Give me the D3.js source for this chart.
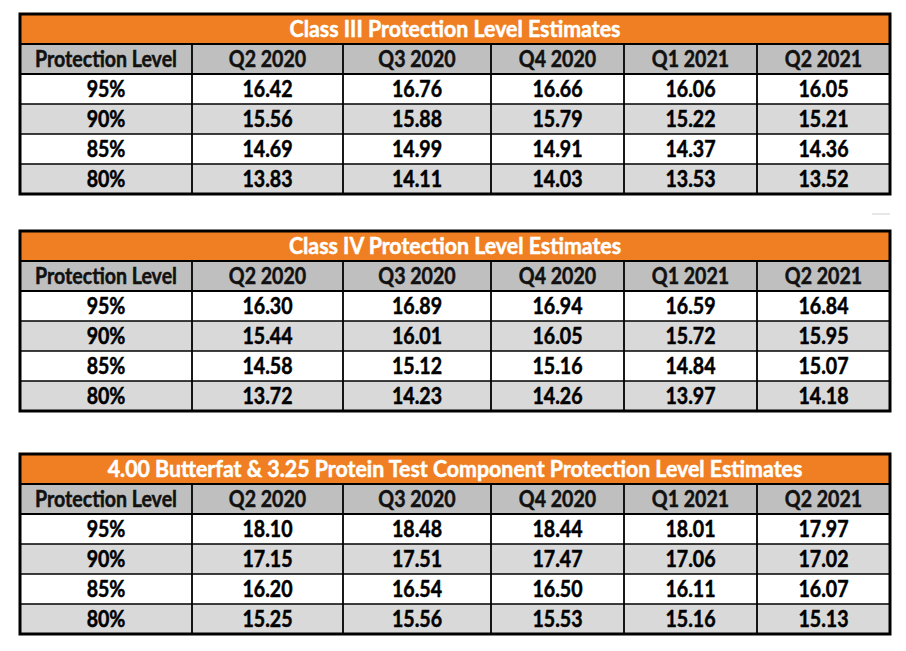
<!DOCTYPE html>
<html>
<head>
<meta charset="utf-8">
<script src="https://cdn.jsdelivr.net/npm/d3@7"></script>
<style>
  body { margin: 0; background: #fff; }
  text { font-family: Lato, "Noto Sans", sans-serif; font-weight: bold; font-size: 22px; }
</style>
</head>
<body>
<svg id="chart" width="906" height="651"></svg>
<script>
// table contents
const quarters = ["Q2 2020", "Q3 2020", "Q4 2020", "Q1 2021", "Q2 2021"];
const levels = ["95%", "90%", "85%", "80%"];
const titles = [
  "Class III Protection Level Estimates",
  "Class IV Protection Level Estimates",
  "4.00 Butterfat & 3.25 Protein Test Component Protection Level Estimates"
];
const classIII = [
  [16.42, 16.76, 16.66, 16.06, 16.05],
  [15.56, 15.88, 15.79, 15.22, 15.21],
  [14.69, 14.99, 14.91, 14.37, 14.36],
  [13.83, 14.11, 14.03, 13.53, 13.52]
];
const classIV = [
  [16.30, 16.89, 16.94, 16.59, 16.84],
  [15.44, 16.01, 16.05, 15.72, 15.95],
  [14.58, 15.12, 15.16, 14.84, 15.07],
  [13.72, 14.23, 14.26, 13.97, 14.18]
];
const component = [
  [18.10, 18.48, 18.44, 18.01, 17.97],
  [17.15, 17.51, 17.47, 17.06, 17.02],
  [16.20, 16.54, 16.50, 16.11, 16.07],
  [15.25, 15.56, 15.53, 15.16, 15.13]
];

const svg = d3.select("#chart");

// layout
const left = 20, right = 890;
const tableTops = [14, 231, 454];
const tableH = 180;
const cols = ["Protection Level"].concat(quarters);
// column left edges
const colX = d3.scaleOrdinal().domain(cols).range([20, 192, 343, 491, 624, 757]);
const colW = d => {
  const i = cols.indexOf(d);
  return (i < cols.length - 1 ? colX(cols[i + 1]) : right) - colX(d);
};
const fmt = d3.format(".2f");

const orange = "#F07F23", headGray = "#BFBFBF", rowGray = "#D9D9D9";

// the source font is narrower than anything installed, so squeeze the text:
// "Protection Level" is about 142px wide in the original, the long title 695px
function measure(s) {
  const p = svg.append("text").text(s);
  const w = p.node().getComputedTextLength();
  p.remove();
  return w;
}
const sx = 142 / measure("Protection Level");
const sxTitle = 695 / measure(titles[2]);

function label(sel, x, y, k = sx) {
  return sel.attr("text-anchor", "middle")
    .attr("stroke-width", 0.5)
    .attr("transform", (d, i) => `translate(${x(d, i)},${y(d, i)}) scale(${k},1)`);
}

// faint stray rule between first two tables
svg.append("line")
  .attr("x1", 872).attr("x2", 890).attr("y1", 214).attr("y2", 214)
  .attr("stroke", "#cfcfcf").attr("stroke-width", 1);

[classIII, classIV, component].forEach((values, t) => {
  const top = tableTops[t];
  const rows = ["title", "header"].concat(levels);
  const y = d3.scaleBand().domain(rows).range([top, top + tableH]);
  const mid = r => y(r) + y.bandwidth() / 2 + 8;
  const g = svg.append("g");

  // title bar
  g.append("rect")
    .attr("x", left).attr("y", y("title"))
    .attr("width", right - left).attr("height", y.bandwidth())
    .attr("fill", orange);
  g.append("text").datum(titles[t])
    .call(label, () => (left + right) / 2, () => mid("title"), sxTitle)
    .attr("fill", "#fff").attr("stroke", "#fff")
    .text(d => d);

  // header row
  g.append("rect")
    .attr("x", left).attr("y", y("header"))
    .attr("width", right - left).attr("height", y.bandwidth())
    .attr("fill", headGray);
  g.selectAll(".hd").data(cols).join("text")
    .call(label, d => colX(d) + colW(d) / 2, () => mid("header"))
    .attr("fill", "#111").attr("stroke", "#111")
    .text(d => d);

  // body rows
  const body = g.selectAll(".row").data(levels).join("g");
  body.append("rect")
    .attr("x", left).attr("y", d => y(d))
    .attr("width", right - left).attr("height", y.bandwidth())
    .attr("fill", (d, i) => i % 2 ? rowGray : "#fff");
  body.append("text")
    .call(label, () => colX(cols[0]) + colW(cols[0]) / 2, d => mid(d))
    .attr("fill", "#000").attr("stroke", "#000")
    .text(d => d);
  body.each(function(lv, i) {
    d3.select(this).selectAll(".v").data(values[i]).join("text")
      .call(label, (d, j) => colX(quarters[j]) + colW(quarters[j]) / 2, () => mid(lv))
      .attr("fill", "#000").attr("stroke", "#000")
      .text(d => fmt(d));
  });

  // grid lines
  g.selectAll(".hl").data(rows.slice(1)).join("line")
    .attr("x1", left).attr("x2", right)
    .attr("y1", d => y(d)).attr("y2", d => y(d))
    .attr("stroke", "#000").attr("stroke-width", (d, i) => i < 2 ? 2 : 1.5);
  g.selectAll(".vl").data(cols.slice(1)).join("line")
    .attr("x1", d => colX(d)).attr("x2", d => colX(d))
    .attr("y1", y("header")).attr("y2", top + tableH)
    .attr("stroke", "#000").attr("stroke-width", 1.8);
  g.append("rect")
    .attr("x", left).attr("y", top)
    .attr("width", right - left).attr("height", tableH)
    .attr("fill", "none").attr("stroke", "#000").attr("stroke-width", 3);
});
</script>
</body>
</html>
